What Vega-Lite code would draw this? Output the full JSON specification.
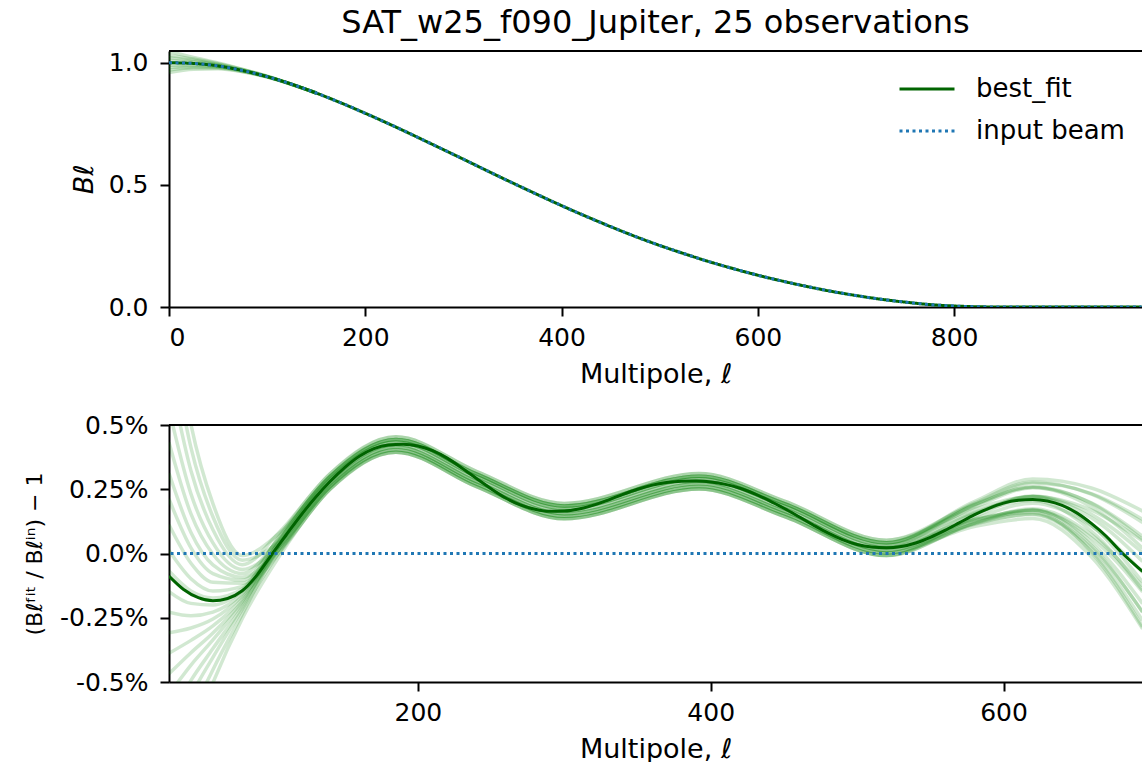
{
"$schema": "https://vega.github.io/schema/vega-lite/v6.json",
"padding": {"left": 23, "top": 7, "right": 0, "bottom": 0},
"background": "white",
"config": {
  "font": "DejaVu Sans",
  "view": {"stroke": null},
  "axis": {"grid": false, "domainColor": "#000", "domainWidth": 2, "tickColor": "#000", "tickWidth": 2, "tickSize": 9, "labelFontSize": 25, "labelColor": "#000", "titleFontSize": 27, "titleFontWeight": "normal", "titleColor": "#000", "labelFont": "DejaVu Sans", "titleFont": "DejaVu Sans"},
  "axisX": {"labelPadding": 9, "titlePadding": 11},
  "axisY": {"labelPadding": 12, "titlePadding": 11}
},
"datasets": {
  "topbest": [
    {"l":0,"best_fit":1.000,"input beam":1.000},{"l":25,"best_fit":0.997,"input beam":0.997},{"l":50,"best_fit":0.987,"input beam":0.987},{"l":75,"best_fit":0.968,"input beam":0.968},{"l":100,"best_fit":0.943,"input beam":0.943},{"l":125,"best_fit":0.912,"input beam":0.912},{"l":150,"best_fit":0.876,"input beam":0.876},{"l":175,"best_fit":0.836,"input beam":0.836},{"l":200,"best_fit":0.793,"input beam":0.793},{"l":225,"best_fit":0.748,"input beam":0.748},{"l":250,"best_fit":0.701,"input beam":0.701},{"l":275,"best_fit":0.653,"input beam":0.653},{"l":300,"best_fit":0.605,"input beam":0.605},{"l":325,"best_fit":0.556,"input beam":0.556},{"l":350,"best_fit":0.508,"input beam":0.508},{"l":375,"best_fit":0.461,"input beam":0.461},{"l":400,"best_fit":0.415,"input beam":0.415},{"l":425,"best_fit":0.371,"input beam":0.371},{"l":450,"best_fit":0.329,"input beam":0.329},{"l":475,"best_fit":0.289,"input beam":0.289},{"l":500,"best_fit":0.252,"input beam":0.252},{"l":525,"best_fit":0.218,"input beam":0.218},{"l":550,"best_fit":0.186,"input beam":0.186},{"l":575,"best_fit":0.157,"input beam":0.157},{"l":600,"best_fit":0.130,"input beam":0.130},{"l":625,"best_fit":0.106,"input beam":0.106},{"l":650,"best_fit":0.084,"input beam":0.084},{"l":675,"best_fit":0.064,"input beam":0.064},{"l":700,"best_fit":0.047,"input beam":0.047},{"l":725,"best_fit":0.032,"input beam":0.032},{"l":750,"best_fit":0.020,"input beam":0.020},{"l":775,"best_fit":0.010,"input beam":0.010},{"l":800,"best_fit":0.004,"input beam":0.004},{"l":825,"best_fit":0.001,"input beam":0.001},{"l":850,"best_fit":0.0,"input beam":0.0},{"l":900,"best_fit":0.0,"input beam":0.0},{"l":991,"best_fit":0.0,"input beam":0.0}
  ],
  "topfaint": [
    {"c":1,"l":0,"v":1.045},{"c":1,"l":25,"v":1.022},{"c":1,"l":50,"v":0.999},{"c":1,"l":75,"v":0.973},{"c":1,"l":100,"v":0.945},{"c":1,"l":150,"v":0.876},
    {"c":2,"l":0,"v":1.030},{"c":2,"l":25,"v":1.015},{"c":2,"l":50,"v":0.996},{"c":2,"l":75,"v":0.972},{"c":2,"l":100,"v":0.944},{"c":2,"l":150,"v":0.876},
    {"c":3,"l":0,"v":1.020},{"c":3,"l":25,"v":1.009},{"c":3,"l":50,"v":0.993},{"c":3,"l":75,"v":0.970},{"c":3,"l":100,"v":0.944},{"c":3,"l":150,"v":0.876},
    {"c":4,"l":0,"v":1.010},{"c":4,"l":25,"v":1.003},{"c":4,"l":50,"v":0.990},{"c":4,"l":75,"v":0.969},{"c":4,"l":100,"v":0.943},{"c":4,"l":150,"v":0.876},
    {"c":5,"l":0,"v":0.990},{"c":5,"l":25,"v":0.991},{"c":5,"l":50,"v":0.984},{"c":5,"l":75,"v":0.967},{"c":5,"l":100,"v":0.943},{"c":5,"l":150,"v":0.876},
    {"c":6,"l":0,"v":0.980},{"c":6,"l":25,"v":0.985},{"c":6,"l":50,"v":0.981},{"c":6,"l":75,"v":0.966},{"c":6,"l":100,"v":0.942},{"c":6,"l":150,"v":0.876},
    {"c":7,"l":0,"v":0.970},{"c":7,"l":25,"v":0.979},{"c":7,"l":50,"v":0.978},{"c":7,"l":75,"v":0.964},{"c":7,"l":100,"v":0.942},{"c":7,"l":150,"v":0.876},
    {"c":8,"l":0,"v":0.960},{"c":8,"l":25,"v":0.973},{"c":8,"l":50,"v":0.975},{"c":8,"l":75,"v":0.963},{"c":8,"l":100,"v":0.941},{"c":8,"l":150,"v":0.876}
  ],
  "botbest": [
    {"l":30,"v":-0.088},{"l":40,"v":-0.140},{"l":50,"v":-0.172},{"l":60,"v":-0.184},{"l":70,"v":-0.175},{"l":80,"v":-0.145},{"l":90,"v":-0.085},{"l":100,"v":-0.005},{"l":110,"v":0.072},{"l":120,"v":0.148},{"l":130,"v":0.218},{"l":140,"v":0.280},{"l":150,"v":0.334},{"l":160,"v":0.378},{"l":170,"v":0.408},{"l":180,"v":0.422},{"l":190,"v":0.425},{"l":200,"v":0.418},{"l":210,"v":0.400},{"l":220,"v":0.371},{"l":230,"v":0.333},{"l":240,"v":0.292},{"l":250,"v":0.252},{"l":260,"v":0.216},{"l":270,"v":0.189},{"l":280,"v":0.172},{"l":290,"v":0.164},{"l":300,"v":0.165},{"l":310,"v":0.173},{"l":320,"v":0.188},{"l":330,"v":0.208},{"l":340,"v":0.230},{"l":350,"v":0.250},{"l":360,"v":0.266},{"l":370,"v":0.276},{"l":380,"v":0.281},{"l":390,"v":0.282},{"l":400,"v":0.278},{"l":410,"v":0.269},{"l":420,"v":0.254},{"l":430,"v":0.232},{"l":440,"v":0.206},{"l":450,"v":0.176},{"l":460,"v":0.144},{"l":470,"v":0.111},{"l":480,"v":0.080},{"l":490,"v":0.054},{"l":500,"v":0.035},{"l":510,"v":0.025},{"l":520,"v":0.022},{"l":530,"v":0.027},{"l":540,"v":0.041},{"l":550,"v":0.063},{"l":560,"v":0.090},{"l":570,"v":0.120},{"l":580,"v":0.150},{"l":590,"v":0.176},{"l":600,"v":0.196},{"l":610,"v":0.207},{"l":620,"v":0.210},{"l":630,"v":0.204},{"l":640,"v":0.187},{"l":650,"v":0.158},{"l":660,"v":0.117},{"l":670,"v":0.068},{"l":680,"v":0.008},{"l":690,"v":-0.045},{"l":695,"v":-0.070}
  ],
  "botfaint": [
    {"c":1,"l":30,"v":1.012},{"c":1,"l":45,"v":0.502},{"c":1,"l":60,"v":0.194},{"c":1,"l":80,"v":-0.008},{"c":1,"l":105,"v":0.077},{"c":1,"l":140,"v":0.300},{"c":1,"l":185,"v":0.444},{"c":1,"l":240,"v":0.310},{"c":1,"l":300,"v":0.185},{"c":1,"l":392,"v":0.301},{"c":1,"l":450,"v":0.195},{"c":1,"l":520,"v":0.042},{"c":1,"l":580,"v":0.196},{"c":1,"l":620,"v":0.278},{"c":1,"l":660,"v":0.231},{"c":1,"l":695,"v":0.121},
    {"c":2,"l":30,"v":0.862},{"c":2,"l":45,"v":0.412},{"c":2,"l":60,"v":0.143},{"c":2,"l":80,"v":-0.026},{"c":2,"l":105,"v":0.044},{"c":2,"l":140,"v":0.270},{"c":2,"l":185,"v":0.414},{"c":2,"l":240,"v":0.280},{"c":2,"l":300,"v":0.155},{"c":2,"l":392,"v":0.271},{"c":2,"l":450,"v":0.165},{"c":2,"l":520,"v":0.012},{"c":2,"l":580,"v":0.127},{"c":2,"l":620,"v":0.170},{"c":2,"l":660,"v":0.045},{"c":2,"l":695,"v":-0.195},
    {"c":3,"l":30,"v":0.712},{"c":3,"l":45,"v":0.322},{"c":3,"l":60,"v":0.092},{"c":3,"l":80,"v":-0.044},{"c":3,"l":105,"v":0.081},{"c":3,"l":140,"v":0.310},{"c":3,"l":185,"v":0.454},{"c":3,"l":240,"v":0.320},{"c":3,"l":300,"v":0.195},{"c":3,"l":392,"v":0.311},{"c":3,"l":450,"v":0.205},{"c":3,"l":520,"v":0.052},{"c":3,"l":580,"v":0.191},{"c":3,"l":620,"v":0.258},{"c":3,"l":660,"v":0.181},{"c":3,"l":695,"v":0.021},
    {"c":4,"l":30,"v":0.562},{"c":4,"l":45,"v":0.232},{"c":4,"l":60,"v":0.041},{"c":4,"l":80,"v":-0.062},{"c":4,"l":105,"v":0.028},{"c":4,"l":140,"v":0.260},{"c":4,"l":185,"v":0.404},{"c":4,"l":240,"v":0.270},{"c":4,"l":300,"v":0.145},{"c":4,"l":392,"v":0.261},{"c":4,"l":450,"v":0.155},{"c":4,"l":520,"v":0.002},{"c":4,"l":580,"v":0.105},{"c":4,"l":620,"v":0.136},{"c":4,"l":660,"v":-0.013},{"c":4,"l":695,"v":-0.293},
    {"c":5,"l":30,"v":0.432},{"c":5,"l":45,"v":0.154},{"c":5,"l":60,"v":-0.003},{"c":5,"l":80,"v":-0.078},{"c":5,"l":105,"v":0.055},{"c":5,"l":140,"v":0.290},{"c":5,"l":185,"v":0.434},{"c":5,"l":240,"v":0.300},{"c":5,"l":300,"v":0.175},{"c":5,"l":392,"v":0.291},{"c":5,"l":450,"v":0.185},{"c":5,"l":520,"v":0.032},{"c":5,"l":580,"v":0.180},{"c":5,"l":620,"v":0.256},{"c":5,"l":660,"v":0.197},{"c":5,"l":695,"v":0.067},
    {"c":6,"l":30,"v":0.312},{"c":6,"l":45,"v":0.082},{"c":6,"l":60,"v":-0.044},{"c":6,"l":80,"v":-0.092},{"c":6,"l":105,"v":0.013},{"c":6,"l":140,"v":0.250},{"c":6,"l":185,"v":0.394},{"c":6,"l":240,"v":0.260},{"c":6,"l":300,"v":0.135},{"c":6,"l":392,"v":0.251},{"c":6,"l":450,"v":0.145},{"c":6,"l":520,"v":-0.008},{"c":6,"l":580,"v":0.116},{"c":6,"l":620,"v":0.168},{"c":6,"l":660,"v":0.061},{"c":6,"l":695,"v":-0.149},
    {"c":7,"l":30,"v":0.212},{"c":7,"l":45,"v":0.022},{"c":7,"l":60,"v":-0.078},{"c":7,"l":80,"v":-0.104},{"c":7,"l":105,"v":0.061},{"c":7,"l":140,"v":0.300},{"c":7,"l":185,"v":0.444},{"c":7,"l":240,"v":0.310},{"c":7,"l":300,"v":0.185},{"c":7,"l":392,"v":0.301},{"c":7,"l":450,"v":0.195},{"c":7,"l":520,"v":0.042},{"c":7,"l":580,"v":0.202},{"c":7,"l":620,"v":0.290},{"c":7,"l":660,"v":0.255},{"c":7,"l":695,"v":0.165},
    {"c":8,"l":30,"v":0.112},{"c":8,"l":45,"v":-0.038},{"c":8,"l":60,"v":-0.112},{"c":8,"l":80,"v":-0.116},{"c":8,"l":105,"v":0.039},{"c":8,"l":140,"v":0.280},{"c":8,"l":185,"v":0.424},{"c":8,"l":240,"v":0.290},{"c":8,"l":300,"v":0.165},{"c":8,"l":392,"v":0.281},{"c":8,"l":450,"v":0.175},{"c":8,"l":520,"v":0.022},{"c":8,"l":580,"v":0.131},{"c":8,"l":620,"v":0.168},{"c":8,"l":660,"v":0.031},{"c":8,"l":695,"v":-0.229},
    {"c":9,"l":30,"v":0.012},{"c":9,"l":45,"v":-0.098},{"c":9,"l":60,"v":-0.146},{"c":9,"l":80,"v":-0.128},{"c":9,"l":105,"v":0.027},{"c":9,"l":140,"v":0.270},{"c":9,"l":185,"v":0.414},{"c":9,"l":240,"v":0.280},{"c":9,"l":300,"v":0.155},{"c":9,"l":392,"v":0.271},{"c":9,"l":450,"v":0.165},{"c":9,"l":520,"v":0.012},{"c":9,"l":580,"v":0.154},{"c":9,"l":620,"v":0.224},{"c":9,"l":660,"v":0.153},{"c":9,"l":695,"v":0.003},
    {"c":10,"l":30,"v":-0.068},{"c":10,"l":45,"v":-0.146},{"c":10,"l":60,"v":-0.173},{"c":10,"l":80,"v":-0.138},{"c":10,"l":105,"v":0.065},{"c":10,"l":140,"v":0.310},{"c":10,"l":185,"v":0.454},{"c":10,"l":240,"v":0.320},{"c":10,"l":300,"v":0.195},{"c":10,"l":392,"v":0.311},{"c":10,"l":450,"v":0.205},{"c":10,"l":520,"v":0.052},{"c":10,"l":580,"v":0.173},{"c":10,"l":620,"v":0.222},{"c":10,"l":660,"v":0.109},{"c":10,"l":695,"v":-0.111},
    {"c":11,"l":30,"v":-0.148},{"c":11,"l":45,"v":-0.194},{"c":11,"l":60,"v":-0.200},{"c":11,"l":80,"v":-0.147},{"c":11,"l":105,"v":0.014},{"c":11,"l":140,"v":0.260},{"c":11,"l":185,"v":0.404},{"c":11,"l":240,"v":0.270},{"c":11,"l":300,"v":0.145},{"c":11,"l":392,"v":0.261},{"c":11,"l":450,"v":0.155},{"c":11,"l":520,"v":0.002},{"c":11,"l":580,"v":0.135},{"c":11,"l":620,"v":0.196},{"c":11,"l":660,"v":0.107},{"c":11,"l":695,"v":-0.073},
    {"c":12,"l":30,"v":-0.228},{"c":12,"l":45,"v":-0.242},{"c":12,"l":60,"v":-0.228},{"c":12,"l":80,"v":-0.157},{"c":12,"l":105,"v":0.042},{"c":12,"l":140,"v":0.290},{"c":12,"l":185,"v":0.434},{"c":12,"l":240,"v":0.300},{"c":12,"l":300,"v":0.175},{"c":12,"l":392,"v":0.291},{"c":12,"l":450,"v":0.185},{"c":12,"l":520,"v":0.032},{"c":12,"l":580,"v":0.132},{"c":12,"l":620,"v":0.160},{"c":12,"l":660,"v":0.005},{"c":12,"l":695,"v":-0.285},
    {"c":13,"l":30,"v":-0.308},{"c":13,"l":45,"v":-0.290},{"c":13,"l":60,"v":-0.255},{"c":13,"l":80,"v":-0.166},{"c":13,"l":105,"v":0.001},{"c":13,"l":140,"v":0.250},{"c":13,"l":185,"v":0.394},{"c":13,"l":240,"v":0.260},{"c":13,"l":300,"v":0.135},{"c":13,"l":392,"v":0.251},{"c":13,"l":450,"v":0.145},{"c":13,"l":520,"v":-0.008},{"c":13,"l":580,"v":0.143},{"c":13,"l":620,"v":0.222},{"c":13,"l":660,"v":0.169},{"c":13,"l":695,"v":0.049},
    {"c":14,"l":30,"v":-0.388},{"c":14,"l":45,"v":-0.338},{"c":14,"l":60,"v":-0.282},{"c":14,"l":80,"v":-0.176},{"c":14,"l":105,"v":0.049},{"c":14,"l":140,"v":0.300},{"c":14,"l":185,"v":0.444},{"c":14,"l":240,"v":0.310},{"c":14,"l":300,"v":0.185},{"c":14,"l":392,"v":0.301},{"c":14,"l":450,"v":0.195},{"c":14,"l":520,"v":0.042},{"c":14,"l":580,"v":0.160},{"c":14,"l":620,"v":0.206},{"c":14,"l":660,"v":0.087},{"c":14,"l":695,"v":-0.143},
    {"c":15,"l":30,"v":-0.468},{"c":15,"l":45,"v":-0.386},{"c":15,"l":60,"v":-0.309},{"c":15,"l":80,"v":-0.186},{"c":15,"l":105,"v":0.027},{"c":15,"l":140,"v":0.280},{"c":15,"l":185,"v":0.424},{"c":15,"l":240,"v":0.290},{"c":15,"l":300,"v":0.165},{"c":15,"l":392,"v":0.281},{"c":15,"l":450,"v":0.175},{"c":15,"l":520,"v":0.022},{"c":15,"l":580,"v":0.158},{"c":15,"l":620,"v":0.222},{"c":15,"l":660,"v":0.139},{"c":15,"l":695,"v":-0.031},
    {"c":16,"l":30,"v":-0.548},{"c":16,"l":45,"v":-0.434},{"c":16,"l":60,"v":-0.336},{"c":16,"l":80,"v":-0.195},{"c":16,"l":105,"v":0.016},{"c":16,"l":140,"v":0.270},{"c":16,"l":185,"v":0.414},{"c":16,"l":240,"v":0.280},{"c":16,"l":300,"v":0.155},{"c":16,"l":392,"v":0.271},{"c":16,"l":450,"v":0.165},{"c":16,"l":520,"v":0.012},{"c":16,"l":580,"v":0.118},{"c":16,"l":620,"v":0.152},{"c":16,"l":660,"v":0.009},{"c":16,"l":695,"v":-0.261},
    {"c":17,"l":30,"v":-0.648},{"c":17,"l":45,"v":-0.494},{"c":17,"l":60,"v":-0.370},{"c":17,"l":80,"v":-0.207},{"c":17,"l":105,"v":0.044},{"c":17,"l":140,"v":0.300},{"c":17,"l":185,"v":0.444},{"c":17,"l":240,"v":0.310},{"c":17,"l":300,"v":0.185},{"c":17,"l":392,"v":0.301},{"c":17,"l":450,"v":0.195},{"c":17,"l":520,"v":0.042},{"c":17,"l":580,"v":0.187},{"c":17,"l":620,"v":0.260},{"c":17,"l":660,"v":0.195},{"c":17,"l":695,"v":0.055},
    {"c":18,"l":30,"v":-0.748},{"c":18,"l":45,"v":-0.554},{"c":18,"l":60,"v":-0.404},{"c":18,"l":80,"v":-0.219},{"c":18,"l":105,"v":0.002},{"c":18,"l":140,"v":0.260},{"c":18,"l":185,"v":0.404},{"c":18,"l":240,"v":0.270},{"c":18,"l":300,"v":0.145},{"c":18,"l":392,"v":0.261},{"c":18,"l":450,"v":0.155},{"c":18,"l":520,"v":0.002},{"c":18,"l":580,"v":0.114},{"c":18,"l":620,"v":0.154},{"c":18,"l":660,"v":0.023},{"c":18,"l":695,"v":-0.227},
    {"c":19,"l":30,"v":-0.888},{"c":19,"l":45,"v":-0.638},{"c":19,"l":60,"v":-0.452},{"c":19,"l":80,"v":-0.236},{"c":19,"l":105,"v":0.029},{"c":19,"l":140,"v":0.290},{"c":19,"l":185,"v":0.434},{"c":19,"l":240,"v":0.300},{"c":19,"l":300,"v":0.175},{"c":19,"l":392,"v":0.291},{"c":19,"l":450,"v":0.185},{"c":19,"l":520,"v":0.032},{"c":19,"l":580,"v":0.189},{"c":19,"l":620,"v":0.274},{"c":19,"l":660,"v":0.233},{"c":19,"l":695,"v":0.133},
    {"c":20,"l":30,"v":-1.038},{"c":20,"l":45,"v":-0.728},{"c":20,"l":60,"v":-0.503},{"c":20,"l":80,"v":-0.254},{"c":20,"l":105,"v":-0.014},{"c":20,"l":140,"v":0.250},{"c":20,"l":185,"v":0.394},{"c":20,"l":240,"v":0.260},{"c":20,"l":300,"v":0.135},{"c":20,"l":392,"v":0.251},{"c":20,"l":450,"v":0.145},{"c":20,"l":520,"v":-0.008},{"c":20,"l":580,"v":0.119},{"c":20,"l":620,"v":0.174},{"c":20,"l":660,"v":0.073},{"c":20,"l":695,"v":-0.127}
  ]
},
"spacing": 118,
"bounds": "flush",
"resolve": {"legend": {"color": "independent", "strokeDash": "independent"}},
"vconcat": [
  {
    "width": 973, "height": 256,
    "title": {"text": "SAT_w25_f090_Jupiter, 25 observations", "frame": "group", "anchor": "middle", "fontSize": 32, "fontWeight": "normal", "font": "DejaVu Sans", "color": "#000", "offset": 10},
    "layer": [
      {"data": {"name": "topfaint"},
       "mark": {"type": "line", "color": "#008000", "opacity": 0.2, "strokeWidth": 3.5, "clip": true, "interpolate": "monotone"},
       "encoding": {
         "x": {"field": "l", "type": "quantitative", "scale": {"domain": [0, 991.4], "nice": false, "zero": false}, "axis": {"values": [0, 200, 400, 600, 800], "format": "d", "title": "Multipole, ℓ"}},
         "y": {"field": "v", "type": "quantitative", "scale": {"domain": [0, 1.048], "nice": false}, "axis": {"values": [0, 0.5, 1], "format": ".1f", "title": "Bℓ", "titleFontStyle": "italic", "titlePadding": 10}},
         "detail": {"field": "c", "type": "nominal"}
       }},
      {"data": {"name": "topbest"},
       "transform": [{"fold": ["best_fit", "input beam"], "as": ["series", "v"]}],
       "mark": {"type": "line", "strokeWidth": 3, "clip": true, "interpolate": "monotone"},
       "encoding": {
         "x": {"field": "l", "type": "quantitative"},
         "y": {"field": "v", "type": "quantitative"},
         "color": {"field": "series", "type": "nominal", "scale": {"domain": ["best_fit", "input beam"], "range": ["#006400", "#1f77b4"]},
           "legend": {"title": null, "orient": "none", "legendX": 729, "legendY": 9, "symbolType": "stroke", "symbolSize": 3025, "symbolStrokeWidth": 3, "labelFontSize": 26, "labelFont": "DejaVu Sans", "labelColor": "#000", "labelOffset": 20, "rowPadding": -17, "padding": 0}},
         "strokeDash": {"field": "series", "type": "nominal", "scale": {"domain": ["best_fit", "input beam"], "range": [[1, 0], [3, 3.5]]},
           "legend": {"title": null, "orient": "none", "legendX": 729, "legendY": 9, "symbolType": "stroke", "symbolSize": 3025, "symbolStrokeWidth": 3, "labelFontSize": 26, "labelFont": "DejaVu Sans", "labelColor": "#000", "labelOffset": 20, "rowPadding": -17, "padding": 0}}
       }},
      {"data": {"values": [{}]},
       "mark": {"type": "rule", "color": "#000", "strokeWidth": 2},
       "encoding": {"y": {"datum": 1.048}}}
    ]
  },
  {
    "width": 973, "height": 257,
    "layer": [
      {"data": {"name": "botfaint"},
       "mark": {"type": "line", "color": "#008000", "opacity": 0.18, "strokeWidth": 3.5, "clip": true, "interpolate": "monotone"},
       "encoding": {
         "x": {"field": "l", "type": "quantitative", "scale": {"domain": [30, 694.6], "nice": false, "zero": false}, "axis": {"values": [200, 400, 600], "format": "d", "title": "Multipole, ℓ"}},
         "y": {"field": "v", "type": "quantitative", "scale": {"domain": [-0.5, 0.5], "nice": false}, "axis": {"values": [-0.5, -0.25, 0, 0.25, 0.5], "labelExpr": "datum.value == 0.5 ? '0.5%' : datum.value == 0.25 ? '0.25%' : datum.value == 0 ? '0.0%' : datum.value == -0.25 ? '-0.25%' : '-0.5%'", "title": "(Bℓᶠⁱᵗ / Bℓⁱⁿ) − 1", "titleFontSize": 22, "titlePadding": 13}},
         "detail": {"field": "c", "type": "nominal"}
       }},
      {"data": {"name": "botbest"},
       "mark": {"type": "line", "color": "#006400", "strokeWidth": 3, "clip": true, "interpolate": "monotone"},
       "encoding": {
         "x": {"field": "l", "type": "quantitative"},
         "y": {"field": "v", "type": "quantitative"}
       }},
      {"data": {"values": [{}]},
       "mark": {"type": "rule", "color": "#1f77b4", "strokeWidth": 3, "strokeDash": [3, 3.5]},
       "encoding": {"y": {"datum": 0}}},
      {"data": {"values": [{}]},
       "mark": {"type": "rule", "color": "#000", "strokeWidth": 2},
       "encoding": {"y": {"datum": 0.5}}}
    ]
  }
]
}
